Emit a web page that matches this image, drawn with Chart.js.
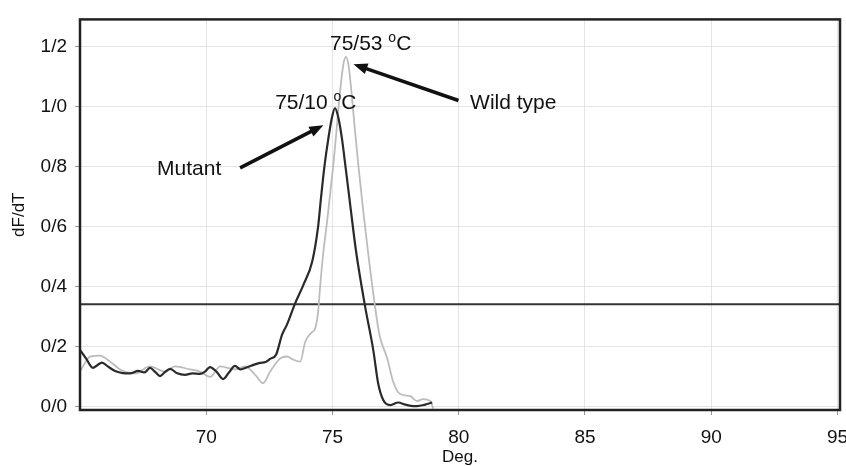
<!DOCTYPE html>
<html>
<head>
<meta charset="utf-8">
<script src="https://cdn.jsdelivr.net/npm/chart.js@4/dist/chart.umd.min.js"></script>
<style>
html,body{margin:0;padding:0;background:#fff;}
</style>
</head>
<body>
<canvas id="chart" width="846" height="466"></canvas>
<script>
// melt curve data
const mutantTemp = [65.00,65.25,65.51,65.70,65.87,66.10,66.39,66.70,66.98,67.30,67.55,67.77,68.00,68.17,68.35,68.57,68.85,69.16,69.45,69.75,69.95,70.15,70.40,70.67,70.90,71.14,71.35,71.54,71.80,72.13,72.35,72.53,72.77,73.00,73.20,73.52,73.84,74.20,74.43,74.55,74.68,74.83,74.97,75.10,75.24,75.38,75.53,75.72,75.93,76.28,76.62,76.81,77.01,77.29,77.60,77.88,78.10,78.35,78.67,78.95];
const mutantDf   = [0.190,0.160,0.130,0.140,0.148,0.135,0.120,0.113,0.112,0.120,0.115,0.130,0.115,0.103,0.115,0.127,0.112,0.107,0.112,0.110,0.118,0.133,0.118,0.093,0.115,0.137,0.125,0.130,0.138,0.147,0.150,0.160,0.175,0.240,0.275,0.345,0.405,0.485,0.600,0.700,0.800,0.890,0.960,0.995,0.960,0.890,0.790,0.660,0.520,0.340,0.187,0.078,0.023,0.006,0.015,0.008,0.004,0.003,0.008,0.015];

const wildTemp = [65.00,65.40,65.79,66.19,66.59,67.18,67.77,68.37,68.76,69.36,69.75,70.15,70.55,71.14,71.54,71.93,72.25,72.53,72.92,73.20,73.44,73.72,73.92,74.20,74.31,74.43,74.51,74.63,74.79,74.92,75.05,75.17,75.30,75.43,75.53,75.63,75.75,75.88,76.03,76.22,76.43,76.66,76.86,77.17,77.40,77.68,78.08,78.35,78.59,78.87,78.99];
const wildDf   = [0.118,0.168,0.171,0.151,0.125,0.112,0.135,0.118,0.135,0.125,0.118,0.100,0.135,0.125,0.135,0.108,0.079,0.118,0.161,0.168,0.158,0.151,0.217,0.250,0.260,0.316,0.400,0.510,0.620,0.720,0.820,0.930,1.050,1.140,1.165,1.140,1.050,0.930,0.800,0.650,0.500,0.350,0.240,0.161,0.085,0.043,0.036,0.020,0.026,0.020,-0.005];

const threshold = 0.342;

const xTicks = [70,75,80,85,90,95];
const yTicks = [0,0.2,0.4,0.6,0.8,1.0,1.2];
const yTickLabels = ['0/0','0/2','0/4','0/6','0/8','1/0','1/2'];

const peakLabels = [
  {main:'75/53 ', x:74.90, y:1.187},
  {main:'75/10 ', x:72.73, y:0.993}
];
const curveLabels = [
  {text:'Wild type', x:80.45, y:0.993},
  {text:'Mutant', x:68.05, y:0.773}
];
const arrows = [
  {x0:79.99, y0:1.020, x1:75.83, y1:1.141},
  {x0:71.34, y0:0.796, x1:74.64, y1:0.938}
];

const FONT = '"Liberation Sans", Arial, sans-serif';

const toPts = (xs, ys) => xs.map((x,i)=>({x, y:ys[i]}));

const notesPlugin = {
  id:'notes',
  afterDatasetsDraw(chart){
    const {ctx, chartArea:a, scales:{x, y}} = chart;
    ctx.save();
    // frame
    ctx.strokeStyle = '#222';
    ctx.lineWidth = 2.5;
    ctx.strokeRect(a.left, a.top, a.right - a.left, a.bottom - a.top);

    ctx.fillStyle = '#111';
    ctx.textBaseline = 'alphabetic';
    ctx.textAlign = 'left';

    peakLabels.forEach(p=>{
      let px = x.getPixelForValue(p.x), py = y.getPixelForValue(p.y);
      ctx.font = '21px ' + FONT;
      ctx.fillText(p.main, px, py);
      px += ctx.measureText(p.main).width;
      ctx.font = '14px ' + FONT;
      ctx.fillText('o', px, py - 8);
      px += ctx.measureText('o').width;
      ctx.font = '21px ' + FONT;
      ctx.fillText('C', px, py);
    });

    ctx.font = '21px ' + FONT;
    curveLabels.forEach(l=>{
      ctx.fillText(l.text, x.getPixelForValue(l.x), y.getPixelForValue(l.y));
    });

    // arrows
    ctx.strokeStyle = '#111';
    ctx.lineWidth = 3.5;
    arrows.forEach(ar=>{
      const x0 = x.getPixelForValue(ar.x0), y0 = y.getPixelForValue(ar.y0);
      const x1 = x.getPixelForValue(ar.x1), y1 = y.getPixelForValue(ar.y1);
      const ang = Math.atan2(y1 - y0, x1 - x0);
      const hl = 14, hw = 5.5;
      const bx = x1 - hl * Math.cos(ang), by = y1 - hl * Math.sin(ang);
      ctx.beginPath();
      ctx.moveTo(x0, y0);
      ctx.lineTo(bx + 2 * Math.cos(ang), by + 2 * Math.sin(ang));
      ctx.stroke();
      ctx.beginPath();
      ctx.moveTo(x1, y1);
      ctx.lineTo(bx + hw * Math.sin(ang), by - hw * Math.cos(ang));
      ctx.lineTo(bx - hw * Math.sin(ang), by + hw * Math.cos(ang));
      ctx.closePath();
      ctx.fill();
    });
    ctx.restore();
  }
};

new Chart(document.getElementById('chart'), {
  type:'line',
  data:{
    datasets:[
      {label:'Mutant', data:toPts(mutantTemp, mutantDf), borderColor:'#2a2a2a', borderWidth:2.2,
       pointRadius:0, cubicInterpolationMode:'monotone'},
      {label:'Wild type', data:toPts(wildTemp, wildDf), borderColor:'#bcbcbc', borderWidth:1.8,
       pointRadius:0, cubicInterpolationMode:'monotone'},
      {label:'Threshold', data:[{x:65, y:threshold}, {x:95.1, y:threshold}], borderColor:'#333',
       borderWidth:2, pointRadius:0}
    ]
  },
  options:{
    responsive:false,
    animation:false,
    devicePixelRatio:1,
    layout:{padding:{top:15, right:6, left:0, bottom:0}},
    plugins:{legend:{display:false}, tooltip:{enabled:false}},
    scales:{
      x:{
        type:'linear', min:65, max:95.1,
        afterBuildTicks:s=>{ s.ticks = xTicks.map(v=>({value:v})); },
        afterFit:s=>{ s.height = 56; s.paddingLeft = 0; s.paddingRight = 0; },
        grid:{color:'#e4e4e4', lineWidth:1, tickLength:5, tickColor:'#999'},
        border:{display:false},
        ticks:{color:'#111', padding:11, maxRotation:0, font:{family:FONT, size:19}},
        title:{display:true, text:'Deg.', color:'#111', padding:{top:0, bottom:0}, font:{family:FONT, size:17, lineHeight:1}}
      },
      y:{
        min:-0.01, max:1.29,
        afterBuildTicks:s=>{ s.ticks = yTicks.map(v=>({value:v})); },
        afterFit:s=>{ s.width = 80; },
        grid:{color:'#e4e4e4', lineWidth:1, tickLength:5, tickColor:'#999'},
        border:{display:false},
        ticks:{color:'#111', padding:8, font:{family:FONT, size:19},
          callback:v=>{
            const i = yTicks.findIndex(t=>Math.abs(t - v) < 1e-6);
            return i < 0 ? '' : yTickLabels[i];
          }},
        title:{display:true, text:'dF/dT', color:'#111', padding:{top:9, bottom:0}, font:{family:FONT, size:17}}
      }
    }
  },
  plugins:[notesPlugin]
});
</script>
</body>
</html>
